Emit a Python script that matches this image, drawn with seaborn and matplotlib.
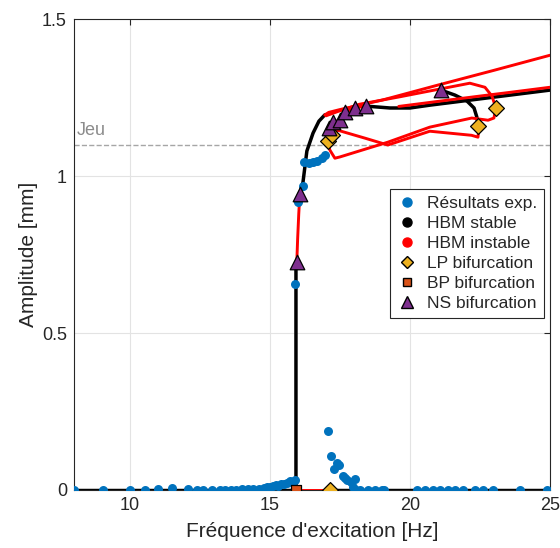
import matplotlib
matplotlib.use("Agg")
import matplotlib.pyplot as plt
import seaborn as sns
from matplotlib.lines import Line2D

sns.set_theme(style="whitegrid")
plt.rcParams['font.family'] = ['Liberation Sans', 'DejaVu Sans']

# ---------------------------------------------------------
# experimental results
# ---------------------------------------------------------
exp_freq = [8.0, 9.04, 10.0, 10.54, 11.0, 11.5, 12.07, 12.39, 12.6, 12.93, 13.2, 13.4,
            13.6, 13.8, 14.0, 14.2, 14.4, 14.6, 14.8, 14.9, 15.0, 15.1, 15.2, 15.3,
            15.4, 15.5, 15.6, 15.7, 15.8, 15.9,
            15.89, 16.0, 16.18, 16.21, 16.39, 16.54, 16.68, 16.86, 16.96,
            17.07, 17.18, 17.29, 17.39, 17.46, 17.6, 17.68, 17.75, 17.9, 18.04, 17.96, 18.07,
            18.21, 18.5, 18.75, 19.0, 19.07,
            20.25, 20.54, 20.82, 21.07, 21.36, 21.61, 21.89, 22.32, 22.61, 22.96, 23.93, 24.89]
exp_amp = [0.0, 0.0, 0.0, 0.0, 0.002, 0.005, 0.002, 0.001, 0.001, 0.0, 0.0, 0.0,
           0.0, 0.0, 0.002, 0.002, 0.003, 0.004, 0.006, 0.008, 0.010, 0.012, 0.015, 0.013,
           0.018, 0.020, 0.022, 0.029, 0.025, 0.030,
           0.656, 0.917, 0.968, 1.045, 1.041, 1.045, 1.048, 1.057, 1.067,
           0.188, 0.108, 0.067, 0.086, 0.078, 0.045, 0.038, 0.030, 0.025, 0.035, 0.010, 0.0,
           0.0, 0.0, 0.0, 0.0, 0.0,
           0.0, 0.0, 0.0, 0.0, 0.0, 0.0, 0.0, 0.0, 0.0, 0.0, 0.0, 0.0]

# ---------------------------------------------------------
# HBM branches (stable = black, instable = red)
# ---------------------------------------------------------
stab_zero_l_f = [8.0, 15.93]
stab_zero_l_a = [0.0, 0.0]
stab_zero_r_f = [17.14, 25.0]
stab_zero_r_a = [0.0, 0.0]
stab_vert_f = [15.93, 15.93, 15.96]
stab_vert_a = [0.0, 0.70, 0.726]
stab_rise_f = [16.07, 16.18, 16.32, 16.54, 16.75, 16.96]
stab_rise_a = [0.943, 0.98, 1.08, 1.137, 1.175, 1.195]
stab_right_f = [18.43, 19.29, 20.0, 20.71, 22.14, 23.57, 25.0]
stab_right_a = [1.223, 1.217, 1.217, 1.226, 1.242, 1.258, 1.274]
stab_arc_f = [21.11, 21.61, 22.04, 22.29, 22.39, 22.43]
stab_arc_a = [1.274, 1.258, 1.239, 1.217, 1.188, 1.159]

inst_zero_f = [15.93, 17.14]
inst_zero_a = [0.0, 0.0]
inst_vert_f = [15.96, 15.99, 16.03, 16.07]
inst_vert_a = [0.726, 0.80, 0.88, 0.943]
inst_top_f = [16.96, 17.1, 17.5, 18.0, 19.0, 21.0, 23.0, 25.0]
inst_top_a = [1.195, 1.203, 1.212, 1.222, 1.242, 1.290, 1.337, 1.385]
inst_loop_top_f = [17.0, 17.4, 18.2, 19.6, 21.1, 22.14, 22.68, 22.93, 23.07]
inst_loop_top_a = [1.192, 1.205, 1.229, 1.252, 1.278, 1.296, 1.283, 1.255, 1.217]
inst_loop_a_f = [23.07, 23.0, 22.79, 22.21, 20.71, 19.21, 17.5, 17.32, 17.14, 17.07]
inst_loop_a_a = [1.217, 1.185, 1.178, 1.185, 1.156, 1.108, 1.061, 1.057, 1.083, 1.111]
inst_loop_b_f = [22.43, 22.45, 22.43, 22.2, 20.71, 19.21, 18.39, 17.43, 17.21]
inst_loop_b_a = [1.159, 1.14, 1.124, 1.13, 1.143, 1.099, 1.121, 1.146, 1.131]
inst_right_f = [19.6, 21.0, 22.5, 23.5, 25.0]
inst_right_a = [1.222, 1.238, 1.255, 1.266, 1.283]
inst_knee_f = [17.07, 17.11, 17.25, 17.5, 17.68, 18.04, 18.43]
inst_knee_a = [1.111, 1.153, 1.172, 1.178, 1.204, 1.217, 1.223]

# bifurcation points
lp_freq = [17.14, 17.07, 17.21, 22.43, 23.07]
lp_amp = [0.0, 1.111, 1.131, 1.159, 1.217]
bp_freq = [15.93]
bp_amp = [0.0]
ns_freq = [15.96, 16.07, 17.11, 17.25, 17.5, 17.68, 18.04, 18.43, 21.11]
ns_amp = [0.726, 0.943, 1.153, 1.172, 1.178, 1.204, 1.217, 1.223, 1.274]

c_exp = '#0072BD'
c_lp = '#EDB120'
c_bp = '#D95319'
c_ns = '#7E2F8E'

fig = plt.figure(figsize=(5.6, 5.48), dpi=100)
ax = fig.add_axes([0.132, 0.106, 0.850, 0.859])

ax.axhline(1.1, color='#a6a6a6', ls='--', lw=1.0, zorder=1)
ax.text(8.1, 1.118, 'Jeu', color='#8c8c8c', fontsize=13, va='bottom', ha='left')

stable = [(stab_zero_l_f, stab_zero_l_a), (stab_zero_r_f, stab_zero_r_a),
          (stab_vert_f, stab_vert_a), (stab_rise_f, stab_rise_a),
          (stab_right_f, stab_right_a), (stab_arc_f, stab_arc_a)]
unstable = [(inst_zero_f, inst_zero_a), (inst_vert_f, inst_vert_a),
            (inst_top_f, inst_top_a), (inst_loop_top_f, inst_loop_top_a),
            (inst_loop_a_f, inst_loop_a_a), (inst_loop_b_f, inst_loop_b_a),
            (inst_right_f, inst_right_a), (inst_knee_f, inst_knee_a)]

for f, a in stable:
    sns.lineplot(x=f, y=a, sort=False, estimator=None, color='black', lw=2.5, ax=ax, zorder=2)
for f, a in unstable:
    sns.lineplot(x=f, y=a, sort=False, estimator=None, color='#ff0000', lw=2.1, ax=ax, zorder=3)

sns.scatterplot(x=exp_freq, y=exp_amp, color=c_exp, s=42, linewidth=0, ax=ax, zorder=4)
sns.scatterplot(x=lp_freq, y=lp_amp, marker='D', color=c_lp, s=65, edgecolor='black', linewidth=0.9, ax=ax, zorder=5)
sns.scatterplot(x=bp_freq, y=bp_amp, marker='s', color=c_bp, s=50, edgecolor='black', linewidth=0.9, ax=ax, zorder=5)
sns.scatterplot(x=ns_freq, y=ns_amp, marker='^', color=c_ns, s=110, edgecolor='black', linewidth=0.9, ax=ax, zorder=6)

ax.set_xlim(8, 25)
ax.set_ylim(0, 1.5)
ax.set_xticks([10, 15, 20, 25])
ax.set_yticks([0, 0.5, 1, 1.5])
ax.set_yticklabels(['0', '0.5', '1', '1.5'])
ax.tick_params(direction='in', length=4, width=0.8, labelsize=13, colors='#262626',
               top=True, right=True, pad=5)
ax.grid(True, color='#e3e3e3', lw=0.8)
for s in ax.spines.values():
    s.set_visible(True)
    s.set_color('#262626')
    s.set_linewidth(0.8)
ax.set_xlabel("Fréquence d'excitation [Hz]", fontsize=15, color='#262626', labelpad=6)
ax.set_ylabel('Amplitude [mm]', fontsize=15, color='#262626', labelpad=3)

handles = [
    Line2D([], [], ls='none', marker='o', color=c_exp, markersize=6.5),
    Line2D([], [], ls='none', marker='o', color='black', markersize=6.5),
    Line2D([], [], ls='none', marker='o', color='#ff0000', markersize=6.5),
    Line2D([], [], ls='none', marker='D', markerfacecolor=c_lp, markeredgecolor='black', markersize=6.5),
    Line2D([], [], ls='none', marker='s', markerfacecolor=c_bp, markeredgecolor='black', markersize=6),
    Line2D([], [], ls='none', marker='^', markerfacecolor=c_ns, markeredgecolor='black', markersize=8),
]
labels = ['Résultats exp.', 'HBM stable', 'HBM instable', 'LP bifurcation', 'BP bifurcation', 'NS bifurcation']
leg = ax.legend(handles, labels, loc='upper right', bbox_to_anchor=(0.987, 0.64), fontsize=12.5,
                frameon=True, fancybox=False, framealpha=1, edgecolor='#262626',
                handlelength=1.2, handletextpad=0.5, borderpad=0.4, labelspacing=0.28,
                borderaxespad=0)
leg.get_frame().set_linewidth(0.8)

fig.savefig('out.png', dpi=100)
